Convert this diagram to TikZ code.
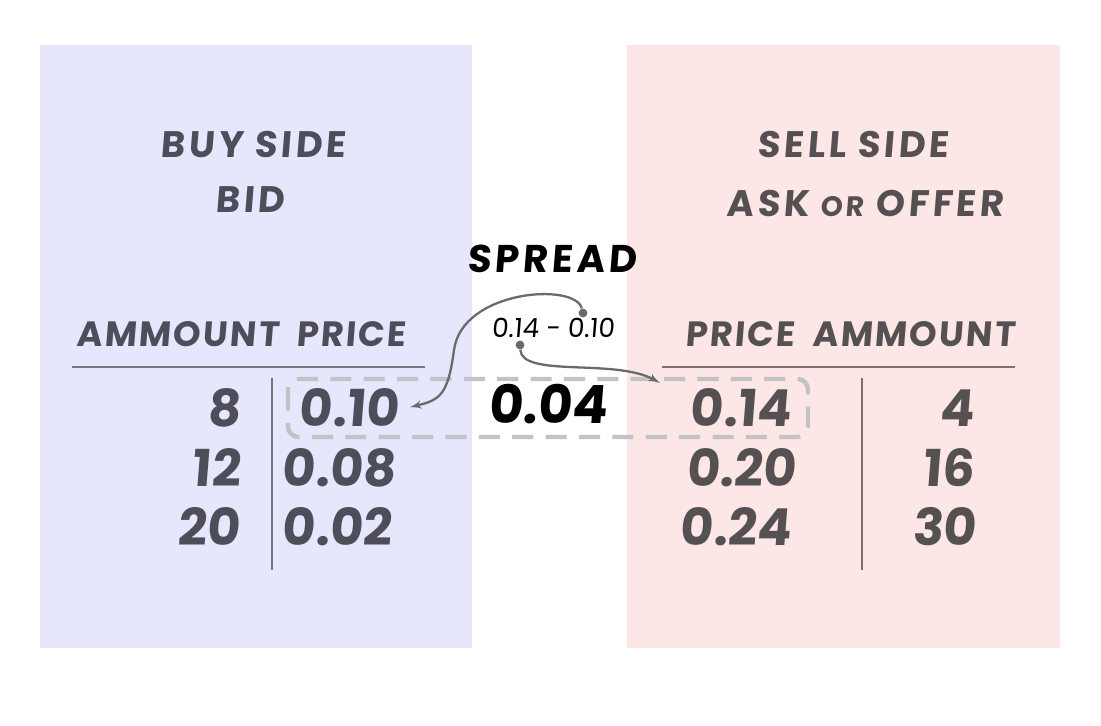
\documentclass[tikz,border=0pt]{standalone}
\usepackage{fontspec}
\setmainfont{Poppins}[FakeSlant=0.08]
\usepackage{tikz}
\usetikzlibrary{shapes,arrows}

\definecolor{buybg}{RGB}{230,230,252}
\definecolor{sellbg}{RGB}{253,230,230}
\definecolor{buyink}{RGB}{78,78,90}
\definecolor{sellink}{RGB}{85,80,82}
\definecolor{rulegray}{RGB}{120,120,130}
\definecolor{dashgray}{RGB}{195,195,198}
\definecolor{arrowgray}{RGB}{105,105,110}

\begin{document}
\begin{tikzpicture}[x=0.02cm, y=-0.02cm,
      title_text/.style ={anchor=base, inner sep=0pt,
        font=\bfseries\fontsize{21}{24}\selectfont\addfontfeature{LetterSpace=10}},
      head_text/.style ={anchor=base, inner sep=0pt,
        font=\bfseries\fontsize{20}{24}\selectfont\addfontfeature{LetterSpace=6}},
      num_left/.style ={anchor=base west, inner sep=2pt,
        font=\bfseries\fontsize{29}{32}\selectfont},
      num_right/.style ={anchor=base east, inner sep=2pt,
        font=\bfseries\fontsize{29}{32}\selectfont},
      spread_text/.style ={anchor=base, inner sep=0pt, text=black,
        font=\bfseries\fontsize{22}{26}\selectfont\addfontfeature{LetterSpace=10}},
      dot/.style ={circle, fill=arrowgray, inner sep=0pt, minimum size=5pt},
      rule/.style ={draw, line width=1.2pt},
      line/.style ={draw=arrowgray, line width=1.3pt, -latex', shorten >=0pt}]
    %
    % 1. background and the two sides
    \fill[white] (0,0) rectangle (1101,726);
    \fill[buybg] (40,45) rectangle (472,648);
    \fill[sellbg] (627,45) rectangle (1060,648);
    %
    % buy side - titles
    \node [title_text, text=buyink] (buy) at (253,158) {BUY SIDE};
    \node [title_text, text=buyink] (bid) at (250,213) {BID};
    \node [head_text, text=buyink] (buy_head) at (241,346) {AMMOUNT\enspace PRICE};
    % sell side - titles
    \node [title_text, text=sellink] (sell) at (853,158) {SELL SIDE};
    \node [title_text, text=sellink] (ask) at (865,216)
      {ASK {\fontsize{16}{18}\selectfont OR} OFFER};
    \node [head_text, text=sellink] (sell_head) at (850,346) {PRICE\enspace AMMOUNT};
    %
    % 2. the two tables
    \draw[rule, rulegray] (72,367) -- (425,367);
    \draw[rule, rulegray] (272,378) -- (272,570);
    \draw[rule, rulegray!90!red] (662,367) -- (1015,367);
    \draw[rule, rulegray!90!red] (862,378) -- (862,570);
    %
    % buy side - rows
    \node [num_right, text=buyink] (a8) at (244,426) {8};
    \node [num_right, text=buyink] (a12) at (244,486) {12};
    \node [num_right, text=buyink] (a20) at (244,545) {20};
    \node [num_left, text=buyink, inner xsep=6pt] (p010) at (288,426) {0.10};
    \node [num_left, text=buyink] (p008) at (278,486) {0.08};
    \node [num_left, text=buyink] (p002) at (278,545) {0.02};
    % sell side - rows
    \node [num_right, text=sellink] (p014) at (795,426) {0.14};
    \node [num_right, text=sellink] (p020) at (800,486) {0.20};
    \node [num_right, text=sellink] (p024) at (795,545) {0.24};
    \node [num_right, text=sellink] (a4) at (978,426) {4};
    \node [num_right, text=sellink] (a16) at (978,486) {16};
    \node [num_right, text=sellink] (a30) at (980,545) {30};
    %
    % 3. the spread in the middle
    \draw[dashgray, line width=2.5pt, dash pattern=on 12pt off 7pt, rounded corners=6pt]
      (288,379) rectangle (808,437);
    \node [spread_text] (spread) at (552,272) {SPREAD};
    \node [anchor=base, inner sep=0pt, font=\fontsize{15}{17}\selectfont] (calc) at (553,337)
      {0.14 - 0.10};
    \node [anchor=base, inner sep=0pt, font=\bfseries\fontsize{30}{34}\selectfont] (diff) at (548,423) {0.04};
    \node [dot] (d_bid) at (583,313) {};
    \node [dot] (d_ask) at (520,345) {};
    \coordinate (ask_tip) at (660,383);
    %
    % 4. connecting with arrows
    \begin{scope}[every path/.style=line]
      \path (d_bid) .. controls (575,282) and (462,290) .. (454,350)
        .. controls (448,395) and (440,400) .. (p010.east);
      \path (d_ask) .. controls (522,378) and (615,358) .. (ask_tip);
    \end{scope}
\end{tikzpicture}
\end{document}
